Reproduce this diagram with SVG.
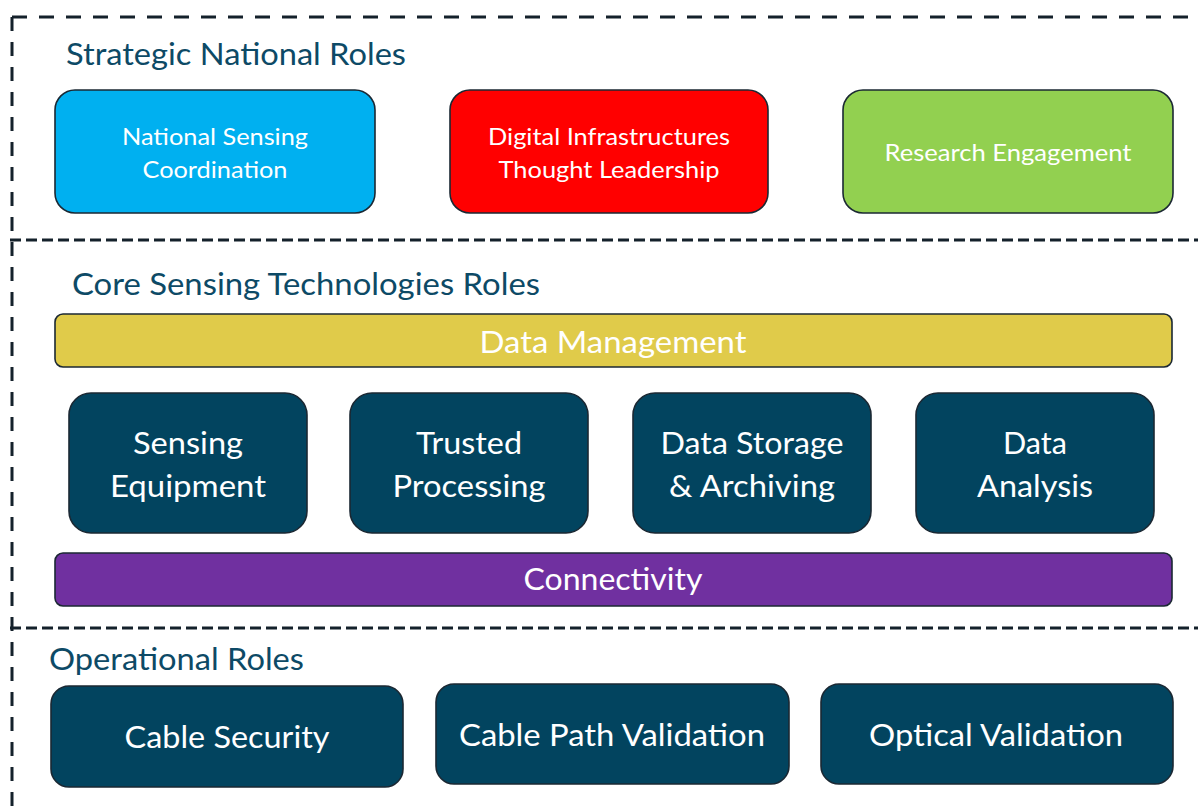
<svg xmlns="http://www.w3.org/2000/svg" width="1198" height="807" viewBox="0 0 1198 807">
<style>
.bg{fill:#ffffff}
.frame{fill:none;stroke:#14212b;stroke-width:3}
.top{stroke-dasharray:15 12}
.div{stroke-dasharray:11 5}
.side{stroke-dasharray:14 11}
.box{stroke:#1b2833;stroke-width:1.6}
.blue{fill:#00B0F0}
.red{fill:#FF0000}
.green{fill:#92D050}
.yellow{fill:#E0CB4A}
.purple{fill:#7030A0}
.dark{fill:#02445F}
text{font-family:"Lato","Open Sans","Liberation Sans",sans-serif;fill:#ffffff;text-anchor:middle}
.title{fill:#0D4A66;text-anchor:start;font-size:31px}
.s24{font-size:24px}
.s30{font-size:30px}
</style>
<rect class="bg" x="0" y="0" width="1198" height="807"/>
<g id="frames">
<line class="frame top" x1="12" y1="17" x2="1198" y2="17"/>
<line class="frame side" x1="12" y1="17" x2="12" y2="807"/>
<line class="frame div" x1="10" y1="240" x2="1198" y2="240"/>
<line class="frame div" x1="10" y1="628" x2="1198" y2="628"/>
</g>
<g id="section-titles">
<text class="title" x="66" y="65" textLength="340" lengthAdjust="spacingAndGlyphs">Strategic National Roles</text>
<text class="title" x="72" y="295" textLength="468" lengthAdjust="spacingAndGlyphs">Core Sensing Technologies Roles</text>
<text class="title" x="49" y="670" textLength="255" lengthAdjust="spacingAndGlyphs">Operational Roles</text>
</g>
<g id="connectors"></g>
<g id="node-national-sensing">
<rect class="box blue" x="55" y="90" width="320" height="123" rx="20"/>
<text class="s24" x="215" y="145" textLength="186" lengthAdjust="spacingAndGlyphs">National Sensing</text>
<text class="s24" x="215" y="178" textLength="145" lengthAdjust="spacingAndGlyphs">Coordination</text>
</g>
<g id="node-digital-infra">
<rect class="box red" x="450" y="90" width="318" height="123" rx="20"/>
<text class="s24" x="609" y="145" textLength="242" lengthAdjust="spacingAndGlyphs">Digital Infrastructures</text>
<text class="s24" x="609" y="178" textLength="221" lengthAdjust="spacingAndGlyphs">Thought Leadership</text>
</g>
<g id="node-research">
<rect class="box green" x="843" y="90" width="330" height="123" rx="20"/>
<text class="s24" x="1008" y="161" textLength="247" lengthAdjust="spacingAndGlyphs">Research Engagement</text>
</g>
<g id="node-data-management">
<rect class="box yellow" x="55" y="314" width="1117" height="53" rx="8"/>
<text class="s30" x="613" y="353" textLength="267" lengthAdjust="spacingAndGlyphs">Data Management</text>
</g>
<g id="node-sensing-equipment">
<rect class="box dark" x="69" y="393" width="238" height="140" rx="22"/>
<text class="s30" x="188" y="454" textLength="110" lengthAdjust="spacingAndGlyphs">Sensing</text>
<text class="s30" x="188" y="497" textLength="156" lengthAdjust="spacingAndGlyphs">Equipment</text>
</g>
<g id="node-trusted-processing">
<rect class="box dark" x="350" y="393" width="238" height="140" rx="22"/>
<text class="s30" x="469" y="454" textLength="106" lengthAdjust="spacingAndGlyphs">Trusted</text>
<text class="s30" x="469" y="497" textLength="153" lengthAdjust="spacingAndGlyphs">Processing</text>
</g>
<g id="node-data-storage">
<rect class="box dark" x="633" y="393" width="238" height="140" rx="22"/>
<text class="s30" x="752" y="454" textLength="183" lengthAdjust="spacingAndGlyphs">Data Storage</text>
<text class="s30" x="752" y="497" textLength="166" lengthAdjust="spacingAndGlyphs">&amp; Archiving</text>
</g>
<g id="node-data-analysis">
<rect class="box dark" x="916" y="393" width="238" height="140" rx="22"/>
<text class="s30" x="1035" y="454" textLength="64" lengthAdjust="spacingAndGlyphs">Data</text>
<text class="s30" x="1035" y="497" textLength="116" lengthAdjust="spacingAndGlyphs">Analysis</text>
</g>
<g id="node-connectivity">
<rect class="box purple" x="55" y="553" width="1117" height="53" rx="8"/>
<text class="s30" x="613" y="590" textLength="179" lengthAdjust="spacingAndGlyphs">Connectivity</text>
</g>
<g id="node-cable-security">
<rect class="box dark" x="51" y="686" width="352" height="101" rx="18"/>
<text class="s30" x="227" y="748" textLength="205" lengthAdjust="spacingAndGlyphs">Cable Security</text>
</g>
<g id="node-cable-path">
<rect class="box dark" x="436" y="684" width="353" height="100" rx="18"/>
<text class="s30" x="612" y="746" textLength="306" lengthAdjust="spacingAndGlyphs">Cable Path Validation</text>
</g>
<g id="node-optical">
<rect class="box dark" x="821" y="684" width="352" height="100" rx="18"/>
<text class="s30" x="996" y="746" textLength="254" lengthAdjust="spacingAndGlyphs">Optical Validation</text>
</g>
</svg>
